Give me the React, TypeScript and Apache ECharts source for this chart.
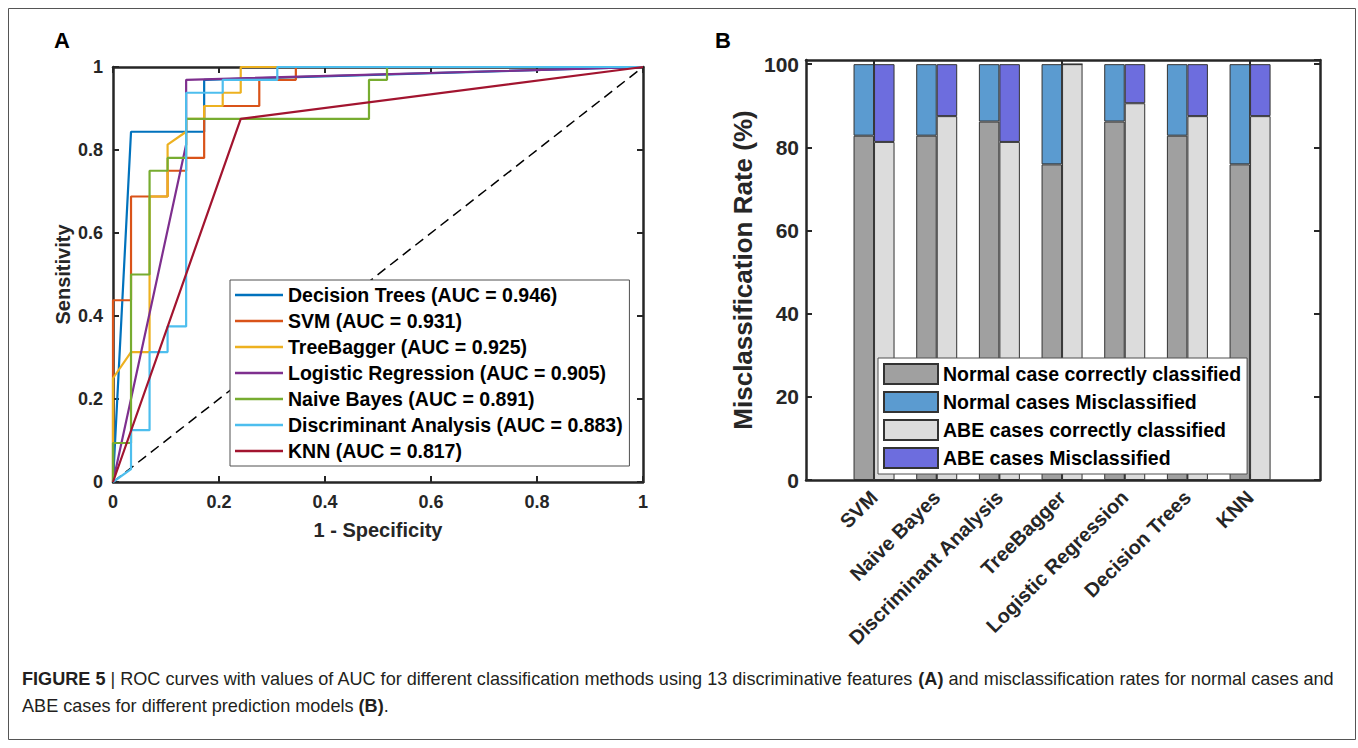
import React, { useEffect, useRef } from "react";
import * as echarts from "echarts";

// ---------- Panel A: ROC curves ----------
const rocNames = [
  "Decision Trees (AUC = 0.946)",
  "SVM (AUC = 0.931)",
  "TreeBagger (AUC = 0.925)",
  "Logistic Regression (AUC = 0.905)",
  "Naive Bayes (AUC = 0.891)",
  "Discriminant Analysis (AUC = 0.883)",
  "KNN (AUC = 0.817)",
];
const rocColors = ["#0072BD", "#D95319", "#EDB120", "#7E2F8E", "#77AC30", "#4DBEEE", "#A2142F"];

const dtFpr = [0, 0.034, 0.172, 0.172, 1];
const dtTpr = [0, 0.844, 0.844, 0.969, 1];

const svmFpr = [0, 0, 0.034, 0.034, 0.103, 0.103, 0.138, 0.138, 0.172, 0.172, 0.276, 0.276, 0.345, 0.345, 1];
const svmTpr = [0, 0.438, 0.438, 0.688, 0.688, 0.75, 0.75, 0.781, 0.781, 0.906, 0.906, 0.969, 0.969, 1, 1];

const tbFpr = [0, 0, 0.034, 0.069, 0.069, 0.103, 0.103, 0.138, 0.138, 0.172, 0.172, 0.207, 0.207, 0.241, 0.241, 1];
const tbTpr = [0, 0.25, 0.313, 0.313, 0.688, 0.688, 0.813, 0.844, 0.875, 0.875, 0.906, 0.906, 0.938, 0.938, 1, 1];

const lrFpr = [0, 0.138, 0.138, 1];
const lrTpr = [0, 0.813, 0.969, 1];

const nbFpr = [0, 0, 0.034, 0.034, 0.069, 0.069, 0.103, 0.103, 0.138, 0.138, 0.483, 0.483, 0.517, 0.517, 1];
const nbTpr = [0, 0.094, 0.094, 0.5, 0.5, 0.75, 0.75, 0.781, 0.781, 0.875, 0.875, 0.969, 0.969, 1, 1];

const daFpr = [0, 0.034, 0.034, 0.069, 0.069, 0.103, 0.103, 0.138, 0.138, 0.207, 0.207, 0.31, 0.31, 1];
const daTpr = [0, 0.031, 0.125, 0.125, 0.313, 0.313, 0.375, 0.375, 0.938, 0.938, 0.969, 0.969, 1, 1];

const knnFpr = [0, 0.241, 1];
const knnTpr = [0, 0.875, 1];

const rocFprs = [dtFpr, svmFpr, tbFpr, lrFpr, nbFpr, daFpr, knnFpr];
const rocTprs = [dtTpr, svmTpr, tbTpr, lrTpr, nbTpr, daTpr, knnTpr];

const chanceFpr = [0, 1];
const chanceTpr = [0, 1];

// ---------- Panel B: misclassification bars ----------
const models = ["SVM", "Naive Bayes", "Discriminant Analysis", "TreeBagger", "Logistic Regression", "Decision Trees", "KNN"];
const normalCorrect = [82.8, 82.8, 86.2, 75.9, 86.2, 82.8, 75.9];
const normalMis = [17.2, 17.2, 13.8, 24.1, 13.8, 17.2, 24.1];
const abeCorrect = [81.3, 87.5, 81.3, 100, 90.6, 87.5, 87.5];
const abeMis = [18.7, 12.5, 18.7, 0, 9.4, 12.5, 12.5];
const barNames = [
  "Normal case correctly classified",
  "Normal cases Misclassified",
  "ABE cases correctly classified",
  "ABE cases Misclassified",
];
const barColors = ["#A0A0A0", "#5B9BD0", "#DCDCDC", "#6D6DDE"];

const FONT = "'Liberation Sans', Arial, Helvetica, sans-serif";
const AX = "#262626";

export default function App() {
  const ref = useRef<HTMLDivElement>(null);

  useEffect(() => {
    if (!ref.current) return;
    const chart = echarts.init(ref.current, null, { renderer: "svg" });

    const boxLine = { show: true, onZero: false, lineStyle: { color: AX, width: 2.5 } };
    const inTick = { show: true, inside: true, length: 6, lineStyle: { color: AX, width: 2 } };
    const tickLabel = { color: AX, fontSize: 18, fontWeight: "bold" as const, fontFamily: FONT };

    const rocSeries = rocNames.map((name, i) => ({
      name,
      type: "line",
      xAxisIndex: 0,
      yAxisIndex: 0,
      data: rocFprs[i].map((x, j) => [x, rocTprs[i][j]]),
      symbol: "none",
      clip: false,
      color: rocColors[i],
      lineStyle: { color: rocColors[i], width: 2.2 },
      z: 3,
    }));

    const barSeriesData = [normalCorrect, normalMis, abeCorrect, abeMis];
    const barSeries = barNames.map((name, i) => ({
      name,
      type: "bar",
      xAxisIndex: 4,
      yAxisIndex: 4,
      stack: i < 2 ? "normal" : "abe",
      data: barSeriesData[i],
      barWidth: 20.5,
      barGap: "0%",
      color: barColors[i],
      itemStyle: { color: barColors[i], borderColor: "#333333", borderWidth: 1 },
      z: 2,
    }));

    const option: any = {
      animation: false,
      backgroundColor: "#ffffff",
      textStyle: { fontFamily: FONT },
      grid: [
        { left: 113, top: 67, width: 530, height: 415 },
        { left: 806, top: 60, width: 514, height: 420 },
        { left: 842.7, top: 60, width: 438.7, height: 420 },
      ],
      xAxis: [
        {
          gridIndex: 0, type: "value", position: "bottom", min: 0, max: 1, interval: 0.2,
          axisLine: boxLine, axisTick: inTick, splitLine: { show: false },
          axisLabel: { ...tickLabel, margin: 11 },
          name: "1 - Specificity", nameLocation: "middle", nameGap: 38,
          nameTextStyle: { color: AX, fontSize: 20, fontWeight: "bold", fontFamily: FONT },
        },
        {
          gridIndex: 0, type: "value", position: "top", min: 0, max: 1, interval: 0.2,
          axisLine: boxLine, axisTick: inTick, splitLine: { show: false }, axisLabel: { show: false },
        },
        {
          gridIndex: 1, type: "value", position: "bottom", min: 0, max: 1,
          axisLine: boxLine, axisTick: { show: false }, splitLine: { show: false }, axisLabel: { show: false },
        },
        {
          gridIndex: 1, type: "value", position: "top", min: 0, max: 1,
          axisLine: boxLine, axisTick: { show: false }, splitLine: { show: false }, axisLabel: { show: false },
        },
        {
          gridIndex: 2, type: "category", position: "bottom", data: models,
          axisLine: { show: false },
          axisTick: { show: true, inside: true, length: 6, alignWithLabel: true, lineStyle: { color: AX, width: 2 } },
          axisLabel: { color: AX, fontSize: 20, fontWeight: "bold", fontFamily: FONT, rotate: 45, margin: 14, interval: 0 },
          splitLine: { show: false },
        },
        {
          gridIndex: 2, type: "category", position: "top", data: models,
          axisLine: { show: false },
          axisTick: { show: true, inside: true, length: 6, alignWithLabel: true, lineStyle: { color: AX, width: 2 } },
          axisLabel: { show: false }, splitLine: { show: false },
        },
      ],
      yAxis: [
        {
          gridIndex: 0, type: "value", position: "left", min: 0, max: 1, interval: 0.2,
          axisLine: boxLine, axisTick: inTick, splitLine: { show: false },
          axisLabel: { ...tickLabel, margin: 10 },
          name: "Sensitivity", nameLocation: "middle", nameGap: 40, nameRotate: 90,
          nameTextStyle: { color: AX, fontSize: 20, fontWeight: "bold", fontFamily: FONT },
        },
        {
          gridIndex: 0, type: "value", position: "right", min: 0, max: 1, interval: 0.2,
          axisLine: boxLine, axisTick: inTick, splitLine: { show: false }, axisLabel: { show: false },
        },
        {
          gridIndex: 1, type: "value", position: "left", min: 0, max: 101, interval: 20,
          axisLine: boxLine, axisTick: inTick, splitLine: { show: false },
          axisLabel: {
            ...tickLabel, fontSize: 21, margin: 7, showMaxLabel: false,
            formatter: (v: number) => (v % 20 === 0 ? String(v) : ""),
          },
          name: "Misclassification Rate (%)", nameLocation: "middle", nameGap: 50, nameRotate: 90,
          nameTextStyle: { color: AX, fontSize: 26, fontWeight: "bold", fontFamily: FONT },
        },
        {
          gridIndex: 1, type: "value", position: "right", min: 0, max: 101, interval: 20,
          axisLine: boxLine, axisTick: inTick, splitLine: { show: false }, axisLabel: { show: false },
        },
        { gridIndex: 2, type: "value", min: 0, max: 101, show: false },
      ],
      legend: [
        {
          data: rocNames, orient: "vertical", left: 230, top: 280, icon: "rect",
          itemWidth: 48, itemHeight: 2.5, itemGap: 6, padding: [5, 6, 5, 5],
          backgroundColor: "#ffffff", borderColor: "#505050", borderWidth: 1,
          selectedMode: false,
          textStyle: { color: "#000", fontSize: 19.5, fontWeight: "bold", fontFamily: FONT, lineHeight: 20 },
        },
        {
          data: barNames, orient: "vertical", left: 878, top: 358, icon: "rect",
          itemWidth: 54, itemHeight: 20, itemGap: 6, padding: [5, 6, 5, 5],
          backgroundColor: "#ffffff", borderColor: "#505050", borderWidth: 1,
          selectedMode: false,
          textStyle: { color: "#000", fontSize: 19.5, fontWeight: "bold", fontFamily: FONT, lineHeight: 20 },
        },
      ],
      series: [
        {
          name: "chance",
          type: "line",
          xAxisIndex: 0,
          yAxisIndex: 0,
          data: chanceFpr.map((x, j) => [x, chanceTpr[j]]),
          symbol: "none",
          clip: false,
          lineStyle: { color: "#000", width: 1.5, type: [10, 6] },
          z: 2,
        },
        ...rocSeries,
        ...barSeries,
      ],
      graphic: [
        {
          type: "rect", shape: { x: 8.5, y: 8.5, width: 1347, height: 731 },
          style: { fill: "none", stroke: "#555", lineWidth: 1 }, silent: true, z: 0,
        },
        {
          type: "text", x: 54, y: 40,
          style: { text: "A", fontSize: 22, fontWeight: "bold", fontFamily: FONT, fill: "#000", verticalAlign: "middle" },
        },
        {
          type: "text", x: 715, y: 40,
          style: { text: "B", fontSize: 22, fontWeight: "bold", fontFamily: FONT, fill: "#000", verticalAlign: "middle" },
        },
        {
          type: "text", x: 22, y: 679,
          style: {
            text: "{b|FIGURE 5} | ROC curves with values of AUC for different classification methods using 13 discriminative features {b|(A)} and misclassification rates for normal cases and",
            fontSize: 18.1, fontFamily: FONT, fill: "#231F20", verticalAlign: "middle",
            rich: { b: { fontSize: 18.1, fontWeight: "bold", fontFamily: FONT, fill: "#231F20" } },
          },
        },
        {
          type: "text", x: 22, y: 706,
          style: {
            text: "ABE cases for different prediction models {b|(B)}.",
            fontSize: 18.1, fontFamily: FONT, fill: "#231F20", verticalAlign: "middle",
            rich: { b: { fontSize: 18.1, fontWeight: "bold", fontFamily: FONT, fill: "#231F20" } },
          },
        },
      ],
    };

    chart.setOption(option);
    return () => chart.dispose();
  }, []);

  return (
    <div
      ref={ref}
      style={{ position: "absolute", left: 0, top: 0, width: 1358, height: 748, background: "#fff" }}
    />
  );
}
